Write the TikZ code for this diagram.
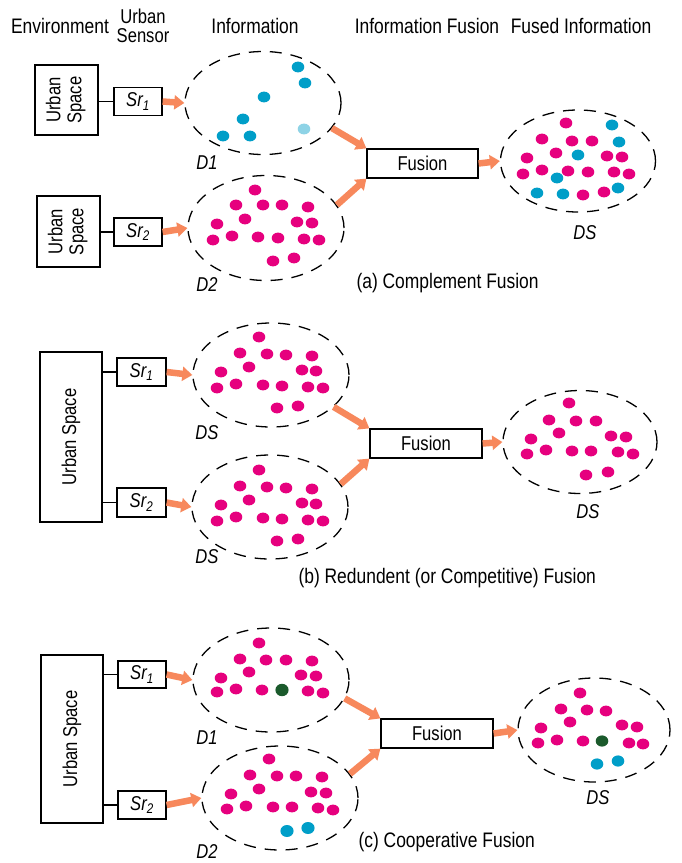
\documentclass[tikz,border=0pt]{standalone}
\usepackage{fontspec}
\setmainfont[FakeStretch=0.83]{Liberation Sans}
\usetikzlibrary{arrows.meta,shapes.geometric}
\definecolor{pinkdot}{HTML}{E6007E}
\definecolor{bluedot}{HTML}{009EC8}
\definecolor{lightbluedot}{HTML}{8ED3E6}
\definecolor{greendot}{HTML}{1B5A2C}
\definecolor{arrowc}{HTML}{F7885C}
\begin{document}
\begin{tikzpicture}[x=1pt,y=-1pt, font=\fontsize{20}{22}\selectfont,
  box/.style={draw, line width=1.2pt, inner sep=0pt},
  sensor/.style={box, minimum width=48pt, minimum height=28pt, font=\fontsize{20}{22}\selectfont\itshape},
  fusebox/.style={box, minimum width=111pt, minimum height=29pt, font=\fontsize{20}{22}\selectfont},
  cloud/.style={ellipse, draw, dash pattern=on 12pt off 9pt, line width=1.3pt, inner sep=0pt, minimum width=156pt, minimum height=104pt},
  farrow/.style={draw=arrowc, line width=6.5pt, -{Triangle[length=10pt,width=14pt,fill=arrowc]}},
  link/.style={draw, line width=1.2pt},
  lab/.style={font=\fontsize{20}{22}\selectfont\itshape},
  captxt/.style={anchor=west, font=\fontsize{21}{23}\selectfont},
  head/.style={font=\fontsize{21}{23}\selectfont}]
\useasboundingbox (0,0) rectangle (682,863);
\fill[white] (0,0) rectangle (682,863);

% headers
\node[head] (h1) at (60,26) {Environment};
\node[head, align=center, font=\fontsize{20}{18.5}\selectfont] (h2) at (143,26) {Urban\\Sensor};
\node[head] (h3) at (255,26) {Information};
\node[head] (h4) at (427,26) {Information Fusion};
\node[head] (h5) at (581,26) {Fused Information};

% ================= (a) =================
\node[box, minimum width=63pt, minimum height=70pt] (USa1) at (66.5,100)
  {\rotatebox{90}{\begin{tabular}{@{}c@{}}Urban\\[-1pt]Space\end{tabular}}};
\node[box, minimum width=63pt, minimum height=71pt] (USa2) at (68.5,231.5)
  {\rotatebox{90}{\begin{tabular}{@{}c@{}}Urban\\[-1pt]Space\end{tabular}}};
\node[sensor] (Sra1) at (138,101.5) {Sr\textsubscript{1}};
\node[sensor] (Sra2) at (138,232) {Sr\textsubscript{2}};
\draw[link] (USa1.east |- Sra1) -- (Sra1.west);
\draw[link] (USa2.east |- Sra2) -- (Sra2.west);
\node[cloud, minimum height=103pt] (Da1) at (263,103) {};
\node[cloud, minimum height=105pt] (Da2) at (266,228) {};
\node[lab] (lDa1) at (207,163) {D1};
\node[lab] (lDa2) at (207,285) {D2};
\node[fusebox] (Fa) at (422.5,163.5) {Fusion};
\node[cloud, minimum width=155pt, minimum height=102pt] (DSa) at (578,161) {};
\node[lab] (lDSa) at (585,233) {DS};
\draw[farrow] (Sra1.east) -- (Da1.west);
\draw[farrow] (Sra2.east) -- (Da2.west);
\draw[farrow] (Da1.-20) -- (Fa.north west);
\draw[farrow] (Da2.18) -- (Fa.south west);
\draw[farrow] (Fa.east) -- (DSa.west);
\node[captxt] (capa) at (353,283) {(a) Complement Fusion};

\foreach \x/\y in {298/67,305/83,264/97,243/119,223/136,250/136}
  \fill[bluedot] (\x,\y) ellipse [x radius=6.3pt, y radius=5.4pt];
\fill[lightbluedot] (304,129) ellipse [x radius=6.3pt, y radius=5.4pt];
\foreach \x/\y in {255/190,236/205,263/205,282/205,308/207,245/219,297/222,312/223,217/224,213/240,232/236,258/237,278/238,304/239,319/240,273/261,294/258}
  \fill[pinkdot] (\x,\y) ellipse [x radius=6.3pt, y radius=5.4pt];
\foreach \x/\y in {566/123,542/139,572/141,592/141,556/153,607/156,622/157,527/158,523/174,542/170,568/171,588/172,614/172,629/174,583/195,604/192}
  \fill[pinkdot] (\x,\y) ellipse [x radius=6.3pt, y radius=5.4pt];
\foreach \x/\y in {612/125,619/142,578/155,557/178,537/193,563/194,618/188}
  \fill[bluedot] (\x,\y) ellipse [x radius=6.3pt, y radius=5.4pt];

% ================= (b) =================
\node[box, minimum width=62pt, minimum height=170pt] (USb) at (71,437)
  {\rotatebox{90}{Urban Space}};
\node[sensor, minimum width=49pt] (Srb1) at (141.5,372) {Sr\textsubscript{1}};
\node[sensor, minimum width=49pt, minimum height=29pt] (Srb2) at (141.5,502.5) {Sr\textsubscript{2}};
\draw[link] (USb.east |- Srb1) -- (Srb1.west);
\draw[link] (USb.east |- Srb2) -- (Srb2.west);
\node[cloud] (Db1) at (271,375) {};
\node[cloud] (Db2) at (270,507) {};
\node[lab] (lDb1) at (207,433) {DS};
\node[lab] (lDb2) at (207,557) {DS};
\node[fusebox, minimum width=112pt] (Fb) at (426,443.5) {Fusion};
\node[cloud, minimum width=154pt, minimum height=103pt] (DSb) at (580,442) {};
\node[lab] (lDSb) at (588,512) {DS};
\draw[farrow] (Srb1.east) -- (Db1.west);
\draw[farrow] (Srb2.east) -- (Db2.west);
\draw[farrow] (Db1.-27) -- (Fb.north west);
\draw[farrow] (Db2.18) -- (Fb.south west);
\draw[farrow] (Fb.east) -- (DSb.west);
\node[captxt] (capb) at (295,578) {(b) Redundent (or Competitive) Fusion};

\foreach \x/\y in {259/337,240/353,267/354,286/355,312/356,249/367,302/370,316/371,221/372,217/388,236/384,263/385,282/386,308/387,323/388,277/408,298/406}
{
  \fill[pinkdot] (\x,\y) ellipse [x radius=6.3pt, y radius=5.4pt];
  \fill[pinkdot] (\x,\y+133) ellipse [x radius=6.3pt, y radius=5.4pt];
}
\foreach \x/\y in {569/403,549/420,576/421,596/421,559/433,611/436,626/437,531/439,527/454,546/450,572/451,591/451,618/452,633/454,586/475,608/472}
  \fill[pinkdot] (\x,\y) ellipse [x radius=6.3pt, y radius=5.4pt];

% ================= (c) =================
\node[box, minimum width=62pt, minimum height=168pt] (USc) at (72,739)
  {\rotatebox{90}{Urban Space}};
\node[sensor, minimum height=27pt] (Src1) at (142,674.5) {Sr\textsubscript{1}};
\node[sensor] (Src2) at (142,805) {Sr\textsubscript{2}};
\draw[link] (USc.east |- Src1) -- (Src1.west);
\draw[link] (USc.east |- Src2) -- (Src2.west);
\node[cloud] (Dc1) at (271,680) {};
\node[cloud] (Dc2) at (280,798) {};
\node[lab] (lDc1) at (207,738) {D1};
\node[lab] (lDc2) at (207,852) {D2};
\node[fusebox, minimum width=112pt] (Fc) at (437,733.5) {Fusion};
\node[cloud, minimum width=152pt] (DSc) at (594,730) {};
\node[lab] (lDSc) at (598,798) {DS};
\draw[farrow] (Src1.east) -- (Dc1.west);
\draw[farrow] (Src2.east) -- (Dc2.west);
\draw[farrow] (Dc1.-14) -- (Fc.north west);
\draw[farrow] (Dc2.19) -- (Fc.south west);
\draw[farrow] (Fc.east) -- (DSc.west);
\node[captxt] (capc) at (355,842) {(c) Cooperative Fusion};

\foreach \x/\y in {259/643,240/659,266/660,286/660,312/661,249/672,301/675,316/676,221/678,217/692,236/689,262/690,308/691,323/693}
  \fill[pinkdot] (\x,\y) ellipse [x radius=6.3pt, y radius=5.4pt];
\fill[greendot] (282,690) ellipse [x radius=6.6pt, y radius=6.2pt];
\foreach \x/\y in {269/759,250/775,277/776,296/776,322/777,259/789,311/792,326/793,231/794,227/809,246/806,273/807,292/807,318/808,333/810}
  \fill[pinkdot] (\x,\y) ellipse [x radius=6.3pt, y radius=5.4pt];
\foreach \x/\y in {287/831,308/828}
  \fill[bluedot] (\x,\y) ellipse [x radius=6.6pt, y radius=6pt];
\foreach \x/\y in {580/693,561/709,587/710,606/711,570/722,622/725,637/727,541/728,538/743,557/740,583/741,629/743,643/744}
  \fill[pinkdot] (\x,\y) ellipse [x radius=6.3pt, y radius=5.4pt];
\fill[greendot] (602,741) ellipse [x radius=6.3pt, y radius=5.6pt];
\foreach \x/\y in {597/764,618/761}
  \fill[bluedot] (\x,\y) ellipse [x radius=6.3pt, y radius=5.6pt];
\end{tikzpicture}
\end{document}
